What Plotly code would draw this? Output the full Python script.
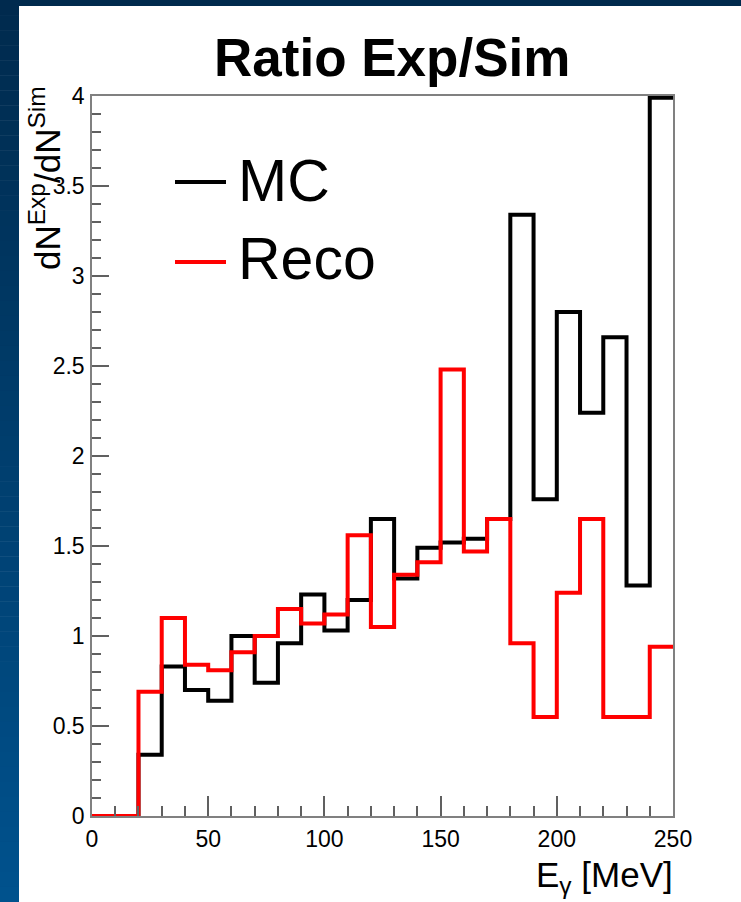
import plotly.graph_objects as go

# ---- data ----
bin_edges = [0, 10, 20, 30, 40, 50, 60, 70, 80, 90, 100, 110, 120, 130, 140,
             150, 160, 170, 180, 190, 200, 210, 220, 230, 240, 250]
mc_ratio = [0.0, 0.0, 0.34, 0.83, 0.70, 0.64, 1.00, 0.74, 0.96, 1.23, 1.03,
            1.20, 1.65, 1.32, 1.49, 1.52, 1.54, 1.65, 3.34, 1.76, 2.80, 2.24,
            2.66, 1.28, 3.99]
reco_ratio = [0.0, 0.0, 0.69, 1.10, 0.84, 0.81, 0.91, 1.00, 1.15, 1.07, 1.12,
              1.56, 1.05, 1.34, 1.41, 2.48, 1.47, 1.65, 0.96, 0.55, 1.24, 1.65,
              0.55, 0.55, 0.94]
series_names = ["MC", "Reco"]
series_colors = ["#000000", "#ff0000"]

W, H = 741, 902
L, R, T, B = 92, 673, 96, 816


def px_x(px):
    return (px - L) / (R - L)


def px_y(py):
    return (B - py) / (B - T)


fig = go.Figure()

for vals, name, col in [(mc_ratio, series_names[0], series_colors[0]),
                        (reco_ratio, series_names[1], series_colors[1])]:
    fig.add_trace(go.Scatter(
        x=bin_edges, y=vals + [vals[-1]], mode="lines", line_shape="hv",
        line=dict(color=col, width=4), name=name, showlegend=False,
        hoverinfo="skip"))

shapes = []
# navy slide frame: top strip
shapes.append(dict(type="rect", xref="paper", yref="paper", layer="below",
                   x0=px_x(0), x1=px_x(W), y0=px_y(6), y1=px_y(0),
                   line=dict(width=0), fillcolor="rgb(0,42,77)"))
# left strip with vertical gradient (stepped)
nb = 60
c0 = (0, 42, 77)
c1 = (0, 82, 142)
for i in range(nb):
    y0p = H * i / nb
    y1p = H * (i + 1) / nb + 0.5
    t = (i + 0.5) / nb
    c = tuple(round(c0[k] + (c1[k] - c0[k]) * t) for k in range(3))
    shapes.append(dict(type="rect", xref="paper", yref="paper", layer="below",
                       x0=px_x(0), x1=px_x(19), y0=px_y(y1p), y1=px_y(y0p),
                       line=dict(width=0), fillcolor="rgb(%d,%d,%d)" % c))

# legend lines
leg_y = [182, 262]
for yy, col in zip(leg_y, series_colors):
    shapes.append(dict(type="line", xref="paper", yref="paper",
                       x0=px_x(175), x1=px_x(226), y0=px_y(yy), y1=px_y(yy),
                       line=dict(color=col, width=4)))

annotations = []
for yy, name in zip([181, 259], series_names):
    annotations.append(dict(text=name, xref="paper", yref="paper",
                            x=px_x(236), y=px_y(yy), xanchor="left",
                            yanchor="middle", showarrow=False,
                            font=dict(family="Liberation Sans", size=59,
                                      color="black")))

annotations.append(dict(text="<b>Ratio Exp/Sim</b>", xref="paper", yref="paper",
                        x=px_x(392), y=px_y(58), xanchor="center",
                        yanchor="middle", showarrow=False,
                        font=dict(family="Liberation Sans", size=53,
                                  color="black")))
annotations.append(dict(text="dN<sup>Exp</sup>/dN<sup>Sim</sup>",
                        xref="paper", yref="paper", textangle=-90,
                        x=px_x(45), y=px_y(84), xanchor="center",
                        yanchor="top", showarrow=False,
                        font=dict(family="Liberation Sans", size=35,
                                  color="black")))
annotations.append(dict(text="E<sub>γ</sub> [MeV]", xref="paper", yref="paper",
                        x=px_x(675), y=px_y(877), xanchor="right",
                        yanchor="middle", showarrow=False,
                        font=dict(family="Liberation Sans", size=35,
                                  color="black")))

axis_common = dict(showline=True, linecolor="#808080", linewidth=1.5,
                   mirror=True, ticks="inside", tickcolor="#606060",
                   tickwidth=1.5, showgrid=False, zeroline=False,
                   tickfont=dict(family="Liberation Sans", size=23,
                                 color="black"))

fig.update_layout(
    width=W, height=H,
    margin=dict(l=L, r=W - R, t=T, b=H - B, pad=0),
    paper_bgcolor="white", plot_bgcolor="white",
    shapes=shapes, annotations=annotations, showlegend=False,
    xaxis=dict(range=[0, 250], tick0=0, dtick=50, ticklen=20,
               ticklabelstandoff=2,
               minor=dict(dtick=10, ticklen=10, ticks="inside",
                          tickcolor="#606060", tickwidth=1.5),
               **axis_common),
    yaxis=dict(range=[0, 4], tick0=0, dtick=0.5, ticklen=17,
               ticklabelstandoff=1,
               minor=dict(dtick=0.1, ticklen=9, ticks="inside",
                          tickcolor="#606060", tickwidth=1.5),
               **axis_common),
)

fig.write_html("out.html")
